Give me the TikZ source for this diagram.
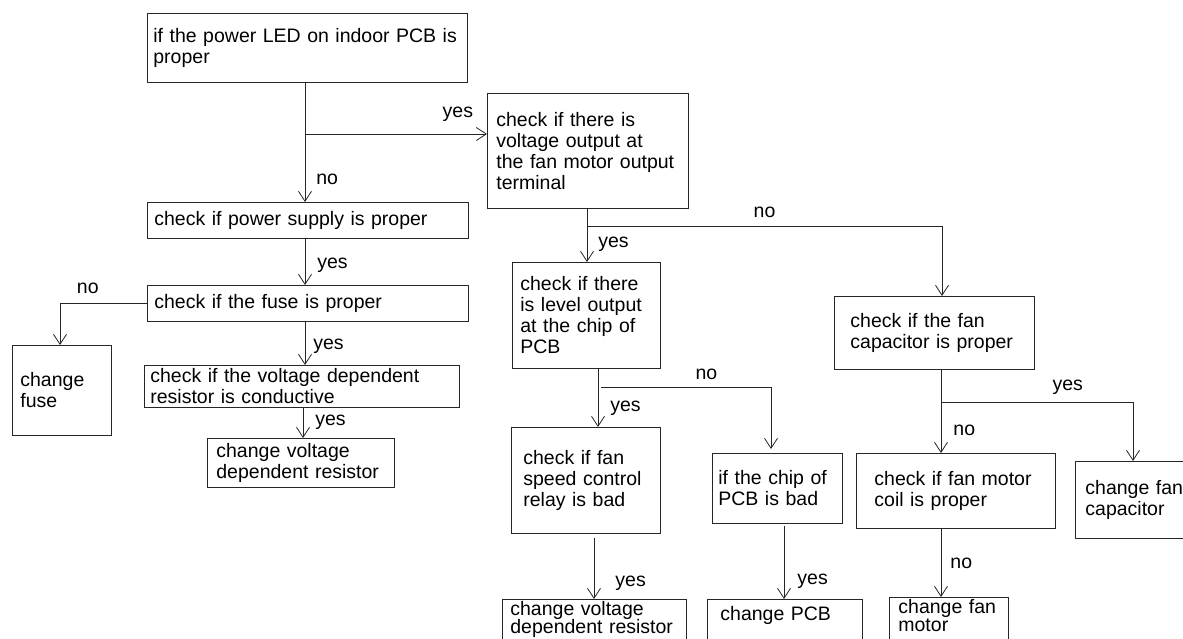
\documentclass[tikz,border=0pt]{standalone}
\usepackage{fontspec}
\setmainfont{Liberation Sans}
\usetikzlibrary{arrows.meta,calc}
\tikzset{
    fan chart/.style = {x=1pt, y=-1pt, line width=0.8pt, draw=black!85,
                        >={Straight Barb[length=10pt, width=13pt]}},
    box/.style       = {draw, anchor=north west, align=left,
                        inner xsep=7pt, inner ysep=0pt,
                        font=\fontsize{19.5}{21}\selectfont},
    bottom box/.style = {box, font=\fontsize{19.5}{18.5}\selectfont,
                         text height=16pt, text depth=40pt},
    lbl/.style       = {inner sep=2pt, font=\fontsize{19.5}{21}\selectfont}
}

\begin{document}
\begin{tikzpicture}[fan chart]
\useasboundingbox (0,0) rectangle (1183,639);
\clip (0,0) rectangle (1183,639);

% power LED branch on the left
\node[box, inner xsep=6pt, text width=308pt, minimum height=69pt] (power)
  at (147,13) {if the power LED on indoor PCB is\\proper};
\node[box, text width=307pt, minimum height=36pt] (supply)
  at (147,202) {check if power supply is proper};
\node[box, text width=307pt, minimum height=36pt] (fuse)
  at (147,285) {check if the fuse is proper};
\node[box, inner xsep=8pt, text width=83pt, minimum height=90pt] (chfuse)
  at (12,345) {change\\fuse};
\node[box, inner xsep=6pt, text width=303pt, minimum height=42pt] (vdr)
  at (144,365) {check if the voltage dependent\\resistor is conductive};
\node[box, inner xsep=9pt, text width=169pt, minimum height=49pt] (chvdr)
  at (207,438) {change voltage\\dependent resistor};

% fan motor output branch
\node[box, inner xsep=9pt, text width=183pt, minimum height=115pt] (volt)
  at (487,93) {check if there is\\voltage output at\\the fan motor output\\terminal};
\node[box, inner xsep=8pt, text width=132pt, minimum height=106pt] (level)
  at (512,262) {check if there\\is level output\\at the chip of\\PCB};
\node[box, inner xsep=12pt, text width=125pt, minimum height=106pt] (relay)
  at (511,427) {check if fan\\speed control\\relay is bad};
\node[box, inner xsep=6pt, text width=118pt, minimum height=70pt] (chip)
  at (712,453) {if the chip of\\PCB is bad};
\node[bottom box, inner xsep=8pt, text width=168pt] (chvdr2)
  at (502,599) {change voltage\\dependent resistor};
\node[box, inner xsep=13pt, text width=129pt, text height=21pt,
      text depth=30pt] (chpcb)
  at (707,599) {change PCB};

% fan capacitor branch
\node[box, inner xsep=16pt, text width=168pt, minimum height=73pt] (cap)
  at (834,296) {check if the fan\\capacitor is proper};
\node[box, inner xsep=18pt, text width=163pt, minimum height=75pt] (coil)
  at (856,453) {check if fan motor\\coil is proper};
\node[box, inner xsep=10pt, text width=110pt, minimum height=77pt] (chcap)
  at (1075,461) {change fan\\capacitor};
\node[bottom box, inner xsep=9pt, text width=101pt] (chmotor)
  at (889,597) {change fan\\motor};

% connectors, left side
\draw[->] (power.south -| 305,0)
  -- node[lbl, right=9pt, pos=0.81] {no} (supply.north -| 305,0);
\coordinate (jpower) at (305,134);
\draw[->] (jpower)
  -- node[lbl, above=10pt, pos=0.84] {yes} (jpower -| volt.west);
\draw[->] (supply.south -| 305,0)
  -- node[lbl, right=10pt, pos=0.57] {yes} (fuse.north -| 305,0);
\draw[->] (fuse.west)
  -| node[lbl, above=7pt, pos=0.34] {no} (chfuse.north -| 60,0);
\draw[->] (fuse.south -| 305,0)
  -- node[lbl, right=6pt, pos=0.57] {yes} (vdr.north -| 305,0);
\draw[->] (vdr.south -| 303,0)
  -- node[lbl, right=10pt, pos=0.48] {yes} (chvdr.north -| 303,0);

% connectors, middle
\draw[->] (volt.south -| 587,0)
  -- node[lbl, right=9pt, pos=0.67] {yes} (level.north -| 587,0);
\coordinate (jvolt) at (587,226);
\draw[->] (jvolt)
  -| node[lbl, above=6pt, pos=0.25] {no} (cap.north -| 942,0);
\draw[->] (level.south -| 598,0)
  -- node[lbl, right=10pt, pos=0.68] {yes} (relay.north -| 598,0);
\coordinate (jlevel) at (601,387);
\draw[->, shorten >=4pt] (jlevel)
  -| node[lbl, above=5pt, pos=0.31] {no} (chip.north -| 771,0);
\draw[->, shorten <=4pt] (relay.south -| 594,0)
  -- node[lbl, right=19pt, pos=0.76] {yes} (chvdr2.north -| 594,0);
\draw[->, shorten <=2pt] (chip.south -| 784,0)
  -- node[lbl, right=11pt, pos=0.76] {yes} (chpcb.north -| 784,0);

% connectors, right side
\draw[->] (cap.south -| 941,0)
  -- node[lbl, right=10pt, pos=0.73] {no} (coil.north -| 941,0);
\coordinate (jcap) at (941,402);
\draw[->] (jcap)
  -| node[lbl, above=5pt, pos=0.33] {yes} (chcap.north -| 1133,0);
\draw[->] (coil.south -| 941,0)
  -- node[lbl, right=7pt, pos=0.5] {no} (chmotor.north -| 941,0);

\end{tikzpicture}
\end{document}
